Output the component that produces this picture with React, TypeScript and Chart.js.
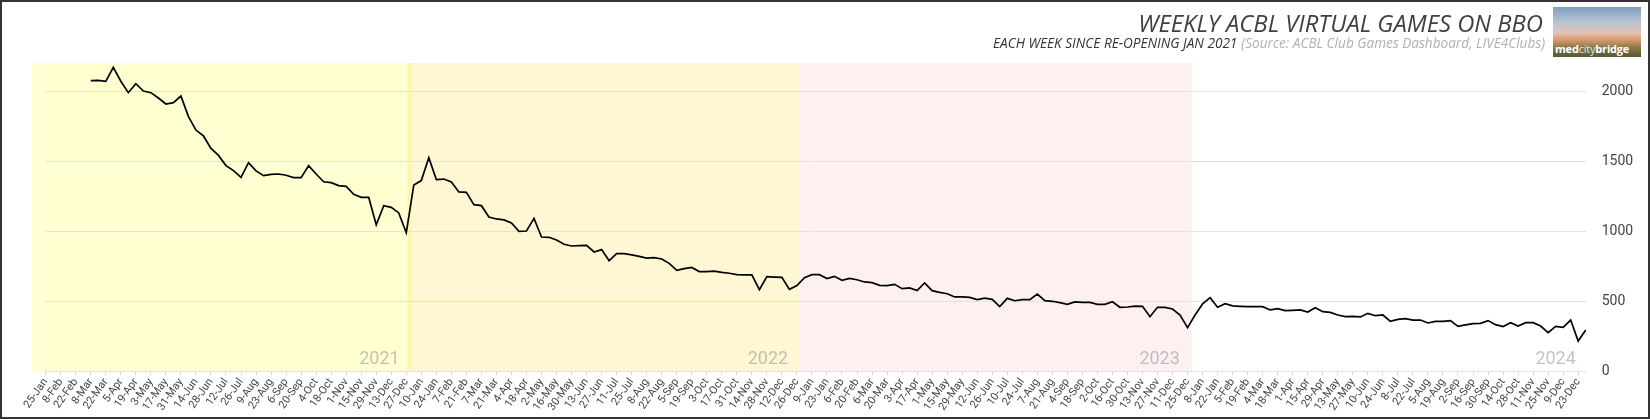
import { useEffect, useRef } from 'react';
import Chart from 'chart.js/auto';

const startWeek = '2021-01-25';
const monthNames = ['Jan', 'Feb', 'Mar', 'Apr', 'May', 'Jun', 'Jul', 'Aug', 'Sep', 'Oct', 'Nov', 'Dec'];

// weekly games, Monday of each week
const games2021 = [
  null, null, null, null, null, null, 2074, 2076, 2069, 2169, 2070, 1988, 2052, 2000, 1988, 1950,
  1907, 1917, 1964, 1817, 1721, 1679, 1590, 1540, 1467, 1431, 1383, 1488, 1429, 1395, 1405, 1407,
  1398, 1381, 1381, 1467, 1407, 1352, 1345, 1324, 1319, 1262, 1240, 1240, 1045, 1181, 1169, 1129, 988
];
const games2022 = [
  1329, 1360, 1524, 1367, 1371, 1350, 1279, 1276, 1188, 1181, 1100, 1086, 1079, 1057, 998, 1000,
  1090, 957, 955, 936, 905, 893, 895, 898, 850, 867, 788, 838, 838, 829, 819, 807,
  810, 800, 769, 719, 731, 740, 710, 710, 714, 705, 698, 688, 686, 686, 581, 674,
  671, 669, 583, 610
];
const games2023 = [
  667, 688, 688, 660, 676, 648, 662, 652, 636, 631, 612, 610, 619, 588, 593, 574,
  629, 574, 562, 552, 529, 529, 526, 510, 521, 512, 460, 519, 502, 510, 510, 550,
  502, 498, 488, 476, 493, 490, 490, 476, 476, 495, 455, 457, 464, 462, 388, 455,
  455, 443, 400, 310
];
const games2024 = [
  400, 479, 524, 455, 481, 465, 462, 460, 460, 460, 436, 445, 431, 433, 436, 421,
  452, 424, 419, 400, 388, 390, 386, 412, 395, 400, 355, 369, 374, 364, 364, 343,
  355, 355, 360, 319, 329, 338, 340, 360, 331, 317, 345, 321, 345, 345, 321, 274,
  319, 312, 364, 214, 293
];
const weeklyGames = [...games2021, ...games2022, ...games2023, ...games2024];

const yTicks = [0, 500, 1000, 1500, 2000];

const bandYears = ['2021', '2022', '2023', '2024'];
const bandStarts = ['2021-01-12', '2021-12-28', '2022-12-29', '2023-12-29'];
const bandEnds = ['2022-01-01', '2022-12-29', '2023-12-29', '2025-01-01'];
const bandColors = ['rgba(255,255,0,0.18)', 'rgba(255,200,0,0.17)', 'rgba(255,0,0,0.06)', 'rgba(0,0,0,0)'];

const DAY = 86400000;
const t0 = Date.parse(startWeek + 'T00:00:00Z');
const weekLabels = weeklyGames.map((_, i) => {
  const d = new Date(t0 + i * 7 * DAY);
  return `${d.getUTCDate()}-${monthNames[d.getUTCMonth()]}`;
});
const weekIndex = (date: string) => (Date.parse(date + 'T00:00:00Z') - t0) / (7 * DAY);

const yearBands = {
  id: 'yearBands',
  beforeDraw(chart: any) {
    const { ctx, chartArea, scales } = chart;
    const x = scales.x;
    ctx.save();
    bandYears.forEach((year, k) => {
      const x0 = x.getPixelForValue(weekIndex(bandStarts[k]));
      const x1 = x.getPixelForValue(weekIndex(bandEnds[k]));
      ctx.fillStyle = bandColors[k];
      ctx.fillRect(x0, chartArea.top, x1 - x0, chartArea.bottom - chartArea.top);
    });
    ctx.font = '18px Roboto';
    ctx.fillStyle = 'rgba(120,120,140,0.45)';
    ctx.textAlign = 'right';
    ctx.textBaseline = 'alphabetic';
    bandYears.forEach((year, k) => {
      const x1 = x.getPixelForValue(weekIndex(bandEnds[k]));
      ctx.fillText(year, x1 - 12, chartArea.bottom - 7);
    });
    ctx.restore();
  },
  afterDraw(chart: any) {
    const { ctx } = chart;
    ctx.save();
    ctx.textAlign = 'right';
    ctx.textBaseline = 'alphabetic';
    ctx.fillStyle = '#404040';
    ctx.font = 'italic 23.8px "Open Sans"';
    ctx.fillText('WEEKLY ACBL VIRTUAL GAMES ON BBO', 1543, 31.5);
    ctx.font = 'italic 13.6px "Open Sans"';
    const source = '(Source: ACBL Club Games Dashboard, LIVE4Clubs)';
    ctx.fillStyle = '#b0b0b0';
    ctx.fillText(source, 1545, 48);
    const w = ctx.measureText(source).width;
    ctx.fillStyle = '#333';
    ctx.fillText('EACH WEEK SINCE RE-OPENING JAN 2021', 1545 - w - 4, 48);
    ctx.restore();
  }
};

export default function App() {
  const chartRef = useRef<HTMLCanvasElement>(null);
  const chartInstance = useRef<Chart | null>(null);

  useEffect(() => {
    document.body.style.margin = '0';
    if (!chartRef.current) return;
    Chart.defaults.font.family = 'Roboto';

    chartInstance.current = new Chart(chartRef.current, {
      type: 'line',
      data: {
        labels: weekLabels,
        datasets: [
          {
            label: 'Games',
            data: weeklyGames,
            borderColor: '#000',
            borderWidth: 1.7,
            pointRadius: 0,
            tension: 0,
            spanGaps: false
          }
        ]
      },
      options: {
        animation: false,
        responsive: false,
        layout: { padding: { left: 45.7, top: 63, right: 0, bottom: 0 } },
        plugins: {
          legend: { display: false },
          tooltip: { enabled: false }
        },
        scales: {
          x: {
            afterFit: (s: any) => { s.height = 48; },
            border: { display: false },
            grid: {
              drawOnChartArea: false,
              tickLength: 4,
              color: (c: any) => (c.index % 2 === 0 ? '#d4d4d4' : 'rgba(0,0,0,0)')
            },
            ticks: {
              autoSkip: false,
              minRotation: 55,
              maxRotation: 55,
              padding: 1,
              color: '#444',
              font: { size: 11 },
              callback: (_v: any, i: number) => (i % 2 === 0 ? weekLabels[i] : '')
            }
          },
          y: {
            position: 'right',
            min: 0,
            max: 2200,
            afterFit: (s: any) => { s.width = 64.3; },
            afterBuildTicks: (s: any) => { s.ticks = yTicks.map((v) => ({ value: v })); },
            border: { display: false },
            grid: { color: '#e2e2e2', drawTicks: false },
            ticks: {
              padding: 16,
              color: '#444',
              font: { size: 14 },
              callback: (v: any) => String(v)
            }
          }
        }
      },
      plugins: [yearBands]
    } as any);

    return () => {
      if (chartInstance.current) {
        chartInstance.current.destroy();
        chartInstance.current = null;
      }
    };
  }, []);

  return (
    <div style={{ position: 'fixed', left: 0, top: 0, width: 1650, height: 419, background: '#fff' }}>
      <canvas ref={chartRef} width={1650} height={419} style={{ position: 'absolute', left: 0, top: 0 }} />
      <div
        style={{
          position: 'absolute', left: 1553, top: 7, width: 88, height: 50, overflow: 'hidden',
          background: 'linear-gradient(180deg, #7f9fbf 0%, #b7c4d4 30%, #e6c3b4 52%, #d89a6c 66%, #8f7a48 80%, #4f5a34 100%)'
        }}
      >
        <div
          style={{
            position: 'absolute', left: 2, bottom: 2, fontFamily: '"Open Sans"', fontWeight: 700,
            fontSize: 11, color: '#fff', letterSpacing: -0.2, lineHeight: '12px'
          }}
        >
          med<span style={{ color: '#cfe2f2', fontWeight: 400 }}>city</span>bridge
        </div>
      </div>
      <div
        style={{
          position: 'absolute', left: 0, top: 0, width: 1650, height: 419, boxSizing: 'border-box',
          border: '2px solid #333', pointerEvents: 'none'
        }}
      />
    </div>
  );
}
